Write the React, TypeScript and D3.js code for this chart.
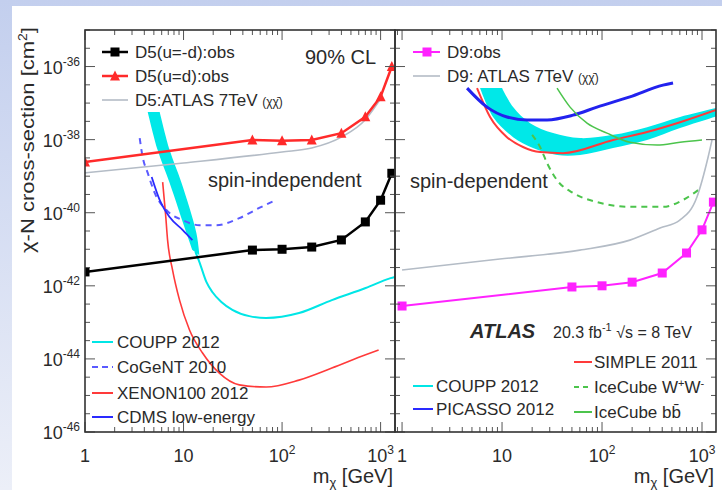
import React from "react";
import * as d3 from "d3";

// ---------- data (WIMP mass in GeV, cross-section in cm^2) ----------
const massPoints = [1, 50, 100, 200, 400, 700, 1000, 1300];

// spin-independent (D5)
const d5UminusD = [2.4e-42, 9.5e-42, 1.0e-41, 1.15e-41, 1.8e-41, 5.6e-41, 2.2e-40, 1.2e-39];
const d5UequalD = [2.45e-39, 9.8e-39, 9.3e-39, 9.8e-39, 1.5e-38, 4.2e-38, 1.5e-37, 1.0e-36];
const d5Atlas7Mass = [1, 10, 100, 200, 400, 700, 1000];
const d5Atlas7 = [1.23e-39, 2.3e-39, 4.6e-39, 5.9e-39, 1.17e-38, 3.5e-38, 1.3e-37];

const coupSiBandLeftMass = [4.33, 5.46, 7.23, 10.7, 12.3];
const coupSiBandLeft = [5.7e-38, 5.2e-39, 6.5e-40, 2.8e-41, 9.5e-42];
const coupSiBandRightMass = [5.73, 7.23, 9.55, 13.5, 14.5];
const coupSiBandRight = [5.7e-38, 5.2e-39, 6.5e-40, 2.8e-41, 6.9e-42];
const coupSiMass = [13.2, 14.5, 17.1, 19.6, 24.2, 31.3, 46.5, 68.9, 148.6, 320, 705, 1262, 1400];
const coupSi = [8.5e-42, 4.47e-42, 1.26e-42, 6.76e-43, 3.59e-43, 2.19e-43, 1.48e-43, 1.32e-43, 1.8e-43, 4.07e-43, 8.7e-43, 1.62e-42, 1.75e-42];

const cogentMass = [3.59, 3.85, 4.33, 5.1, 6.73, 9.77, 14.5, 21.5, 36.8, 58.6, 86.9];
const cogent = [1.1e-38, 3.31e-39, 1.23e-39, 3.47e-40, 1.17e-40, 6.3e-41, 4.57e-41, 4.57e-41, 7.1e-41, 1.35e-40, 2.24e-40];

const cdmsMass = [4.75, 5.72, 7.22, 9.77, 12.3];
const cdms = [9.5e-40, 2.24e-40, 7.6e-41, 3.4e-41, 1.78e-41];

const xenonMass = [6.14, 6.58, 6.89, 7.74, 9.11, 11.5, 15.6, 23.1, 36.8, 68.9, 148.5, 320, 705, 955];
const xenon = [6.9e-40, 8.7e-41, 1.78e-41, 2.7e-42, 4.07e-43, 6.2e-44, 1.45e-44, 4.07e-45, 1.95e-45, 1.7e-45, 2.63e-45, 5.6e-45, 1.29e-44, 1.74e-44];

// spin-dependent (D9)
const d9Obs = [2.8e-43, 9.3e-43, 1.0e-42, 1.26e-42, 2.24e-42, 7.9e-42, 3.4e-41, 1.95e-40];
const d9Atlas7Mass = [1, 9.5, 60, 190, 380, 600, 890, 1150, 1260];
const d9Atlas7 = [2.7e-42, 5.4e-42, 9.5e-42, 1.78e-41, 3.8e-41, 6.3e-41, 2.7e-40, 3.3e-39, 9.8e-39];

const coupSdLowerMass = [6.03, 8.13, 12.9, 20.4, 35.5, 60.3, 129, 282, 603, 1514];
const coupSdLower = [2.57e-37, 4.17e-38, 1.17e-38, 5.9e-39, 3.8e-39, 3.8e-39, 5.9e-39, 9.8e-39, 2.09e-38, 4.68e-38];
const coupSdUpperMass = [10, 12.9, 19.1, 32.4, 60.3, 129, 282, 603, 1514];
const coupSdUpper = [2.57e-37, 7.76e-38, 2.82e-38, 1.51e-38, 1.1e-38, 1.35e-38, 2.19e-38, 4.17e-38, 7.76e-38];

const simpleMass = [5.62, 7.59, 11.2, 16.2, 24.0, 40.7, 129, 282, 603, 1380];
const simple = [2.57e-37, 4.17e-38, 1.17e-38, 6.3e-39, 4.57e-39, 4.27e-39, 9.8e-39, 1.62e-38, 3.0e-38, 6.5e-38];

const picassoMass = [4.47, 7.08, 11.2, 17.8, 28.2, 51.3, 89.1, 190, 407, 513];
const picasso = [2.57e-37, 7.76e-38, 4.17e-38, 3.47e-38, 3.47e-38, 4.68e-38, 7.76e-38, 1.48e-37, 3.1e-37, 3.55e-37];

const iceBbMass = [35.5, 47.9, 70.8, 112, 190, 355, 603, 1000];
const iceBb = [2.57e-37, 7.76e-38, 2.82e-38, 1.51e-38, 8.5e-39, 7.1e-39, 8.5e-39, 9.8e-39];

const iceWwMass = [20.0, 24.0, 28.2, 35.5, 51.3, 89.1, 190, 407, 646, 1000];
const iceWw = [1.35e-38, 6.3e-39, 2.29e-39, 7.76e-40, 3.47e-40, 1.95e-40, 1.45e-40, 1.45e-40, 2.24e-40, 5.0e-40];

// axis labels
const yLabelExponents = [-46, -44, -42, -40, -38, -36];
const xLabelValues = [1, 10, 100, 1000];

// ---------- layout ----------
const TOP = 30;
const BOTTOM = 432;
const FONT = "'Liberation Sans', Arial, sans-serif";
const TEXT = "#2a2a2a";

const yScale = d3.scaleLog().domain([1e-46, 1e-35]).range([BOTTOM, TOP]);
const xLeft = d3.scaleLog().domain([1, 1400]).range([85, 395]);
const xRight = d3.scaleLog().domain([0.85, 1380]).range([395, 716]);

type Pt = [number, number];
const zip = (xs: number[], ys: number[]): Pt[] => xs.map((x, i) => [x, ys[i]]);

function pathFor(xs: d3.ScaleLogarithmic<number, number>, pts: Pt[], smooth = true) {
  return (
    d3
      .line<Pt>()
      .x((d) => xs(d[0]))
      .y((d) => yScale(d[1]))
      .curve(smooth ? d3.curveMonotoneX : d3.curveLinear)(pts) || ""
  );
}

// closed band: edge a drawn forwards, edge b backwards, each smoothed on its own
function bandPath(xs: d3.ScaleLogarithmic<number, number>, a: Pt[], b: Pt[]) {
  const edge = d3
    .line<Pt>()
    .x((d) => xs(d[0]))
    .y((d) => yScale(d[1]))
    .curve(d3.curveCatmullRom.alpha(0.5));
  const first = edge(a) || "";
  const second = (edge(b.slice().reverse()) || "").replace(/^M/, "L");
  return first + second + "Z";
}

function Square({ x, y, s = 9, fill }: { x: number; y: number; s?: number; fill: string }) {
  return <rect x={x - s / 2} y={y - s / 2} width={s} height={s} fill={fill} />;
}

function Triangle({ x, y, s = 10, fill }: { x: number; y: number; s?: number; fill: string }) {
  const h = s * 0.9;
  return <path d={`M${x},${y - h / 2 - 1}L${x + s / 2},${y + h / 2}L${x - s / 2},${y + h / 2}Z`} fill={fill} />;
}

function Power({ x, y, exp, anchor }: { x: number; y: number; exp: string; anchor: string }) {
  return (
    <text x={x} y={y} textAnchor={anchor} fontSize={18} fill={TEXT} fontFamily={FONT}>
      <tspan>10</tspan>
      <tspan dy={-8} fontSize={12}>
        {exp}
      </tspan>
    </text>
  );
}

function Frame({ xs, showY }: { xs: d3.ScaleLogarithmic<number, number>; showY: boolean }) {
  const [x0, x1] = xs.range();
  const [dMin, dMax] = xs.domain();
  const xTicks = xs.ticks().filter((v) => v >= dMin && v <= dMax);
  const isDecade = (v: number) => Math.abs(Math.log10(v) - Math.round(Math.log10(v))) < 1e-6;
  const yTicks = d3.range(-46, -34.99, 0.5);
  const lines: JSX.Element[] = [];
  xTicks.forEach((v, i) => {
    const px = xs(v);
    const len = isDecade(v) ? 10 : 5;
    lines.push(<line key={`b${i}`} x1={px} x2={px} y1={BOTTOM} y2={BOTTOM - len} />);
    lines.push(<line key={`t${i}`} x1={px} x2={px} y1={TOP} y2={TOP + len} />);
  });
  yTicks.forEach((e, i) => {
    const py = yScale(Math.pow(10, e));
    const len = Number.isInteger(e) && e % 2 === 0 ? 10 : 5;
    lines.push(<line key={`l${i}`} x1={x0} x2={x0 + len} y1={py} y2={py} />);
    lines.push(<line key={`r${i}`} x1={x1} x2={x1 - len} y1={py} y2={py} />);
  });
  return (
    <g>
      <g stroke="#555" strokeWidth={1}>{lines}</g>
      <rect x={x0} y={TOP} width={x1 - x0} height={BOTTOM - TOP} fill="none" stroke="#333" strokeWidth={1.6} />
      {xLabelValues.map((v) => {
        const px = xs(v);
        if (v === 1 || v === 10)
          return (
            <text key={v} x={px} y={462} textAnchor="middle" fontSize={18} fill={TEXT} fontFamily={FONT}>
              {v}
            </text>
          );
        return <Power key={v} x={px} y={462} exp={String(Math.round(Math.log10(v)))} anchor="middle" />;
      })}
      {showY &&
        yLabelExponents.map((e) => (
          <Power key={e} x={80} y={yScale(Math.pow(10, e)) + 7} exp={`-${-e}`} anchor="end" />
        ))}
      <text x={x1 - 2} y={483} textAnchor="end" fontSize={20} fill={TEXT} fontFamily={FONT}>
        m
        <tspan dy={4} fontSize={13}>
          χ
        </tspan>
        <tspan dy={-4}> [GeV]</tspan>
      </text>
    </g>
  );
}

function LegendLine({ x1, x2, y, color, width = 2, dash }: { x1: number; x2: number; y: number; color: string; width?: number; dash?: string }) {
  return <line x1={x1} x2={x2} y1={y} y2={y} stroke={color} strokeWidth={width} strokeDasharray={dash} />;
}

function Label({ x, y, size = 17, children, ...rest }: any) {
  return (
    <text x={x} y={y} fontSize={size} fill={TEXT} fontFamily={FONT} {...rest}>
      {children}
    </text>
  );
}

export default function App() {
  const L = xLeft;
  const R = xRight;
  const d5a = zip(massPoints, d5UminusD);
  const d5b = zip(massPoints, d5UequalD);
  const d9 = zip(massPoints, d9Obs);

  return (
    <svg width={722} height={490} style={{ position: "fixed", left: 0, top: 0 }} fontFamily={FONT}>
      <defs>
        <linearGradient id="bg" x1="0" y1="0" x2="0" y2="1">
          <stop offset="0" stopColor="#c3cfee" />
          <stop offset="1" stopColor="#eceff8" />
        </linearGradient>
        <clipPath id="clipL">
          <rect x={85} y={TOP} width={310} height={BOTTOM - TOP} />
        </clipPath>
        <clipPath id="clipR">
          <rect x={395} y={TOP} width={321} height={BOTTOM - TOP} />
        </clipPath>
      </defs>
      <rect width={722} height={490} fill="url(#bg)" />
      <rect x={12} y={6} width={710} height={484} fill="#fff" />

      {/* spin-independent panel */}
      <g clipPath="url(#clipL)">
        <path d={bandPath(L, zip(coupSiBandLeftMass, coupSiBandLeft), zip(coupSiBandRightMass, coupSiBandRight))} fill="#00e8e8" />
        <path d={pathFor(L, zip(xenonMass, xenon))} fill="none" stroke="#ff3a3a" strokeWidth={1.6} />
        <path d={pathFor(L, zip(cogentMass, cogent))} fill="none" stroke="#5a5aff" strokeWidth={2} strokeDasharray="6,5" />
        <path d={pathFor(L, zip(cdmsMass, cdms))} fill="none" stroke="#2a2aff" strokeWidth={1.8} />
        <path d={pathFor(L, zip(coupSiMass, coupSi))} fill="none" stroke="#00e6e6" strokeWidth={2} />
        <path d={pathFor(L, zip(d5Atlas7Mass, d5Atlas7))} fill="none" stroke="#b4bcc6" strokeWidth={1.6} />
        <path d={pathFor(L, d5b, false)} fill="none" stroke="#ff2a2a" strokeWidth={2.5} />
        {d5b.map((d, i) => (
          <Triangle key={i} x={L(d[0])} y={yScale(d[1])} fill="#ff2a2a" />
        ))}
        <path d={pathFor(L, d5a, false)} fill="none" stroke="#000" strokeWidth={2.5} />
        {d5a.map((d, i) => (
          <Square key={i} x={L(d[0])} y={yScale(d[1])} fill="#000" />
        ))}
      </g>

      {/* spin-dependent panel */}
      <g clipPath="url(#clipR)">
        <path d={bandPath(R, zip(coupSdLowerMass, coupSdLower), zip(coupSdUpperMass, coupSdUpper))} fill="#00e8e8" />
        <path d={pathFor(R, zip(simpleMass, simple))} fill="none" stroke="#ff3a3a" strokeWidth={2} />
        <path d={pathFor(R, zip(picassoMass, picasso))} fill="none" stroke="#2222ee" strokeWidth={3} />
        <path d={pathFor(R, zip(iceBbMass, iceBb))} fill="none" stroke="#4cc44c" strokeWidth={1.5} />
        <path d={pathFor(R, zip(iceWwMass, iceWw))} fill="none" stroke="#4cc44c" strokeWidth={2} strokeDasharray="6,5" />
        <path d={pathFor(R, zip(d9Atlas7Mass, d9Atlas7))} fill="none" stroke="#b4bcc6" strokeWidth={1.6} />
        <path d={pathFor(R, d9, false)} fill="none" stroke="#ff22ff" strokeWidth={2} />
        {d9.map((d, i) => (
          <Square key={i} x={R(d[0])} y={yScale(d[1])} fill="#ff22ff" />
        ))}
      </g>

      <Frame xs={L} showY={true} />
      <Frame xs={R} showY={false} />

      {/* y-axis title */}
      <text
        transform="translate(34,140) rotate(-90)"
        textAnchor="middle"
        fontSize={19}
        fill={TEXT}
        fontFamily={FONT}
        textLength={226}
        lengthAdjust="spacingAndGlyphs"
      >
        χ-N cross-section [cm
        <tspan dy={-7} fontSize={12}>
          2
        </tspan>
        <tspan dy={7}>]</tspan>
      </text>

      {/* left panel legends */}
      <LegendLine x1={102} x2={128} y={52} color="#000" width={2.5} />
      <Square x={115} y={52} fill="#000" />
      <Label x={135} y={58}>D5(u=-d):obs</Label>
      <LegendLine x1={102} x2={128} y={76} color="#ff2a2a" width={2.5} />
      <Triangle x={115} y={76} fill="#ff2a2a" />
      <Label x={135} y={82}>D5(u=d):obs</Label>
      <LegendLine x1={102} x2={128} y={100} color="#b4bcc6" width={1.6} />
      <Label x={135} y={106}>
        D5:ATLAS 7TeV <tspan fontSize={12}>(χχ̄)</tspan>
      </Label>
      <Label x={305} y={64} size={20}>90% CL</Label>
      <Label x={208} y={187} size={20}>spin-independent</Label>

      <LegendLine x1={92} x2={113} y={342} color="#00e6e6" />
      <Label x={117} y={348}>COUPP 2012</Label>
      <LegendLine x1={92} x2={113} y={367} color="#5a5aff" dash="6,4" />
      <Label x={117} y={373}>CoGeNT 2010</Label>
      <LegendLine x1={92} x2={113} y={393} color="#ff3a3a" />
      <Label x={117} y={399}>XENON100 2012</Label>
      <LegendLine x1={92} x2={113} y={417} color="#2a2aff" />
      <Label x={117} y={423}>CDMS low-energy</Label>

      {/* right panel legends */}
      <LegendLine x1={413} x2={440} y={52} color="#ff22ff" width={2} />
      <Square x={427} y={52} fill="#ff22ff" />
      <Label x={447} y={58}>D9:obs</Label>
      <LegendLine x1={413} x2={440} y={76} color="#b4bcc6" width={1.6} />
      <Label x={447} y={82}>
        D9: ATLAS 7TeV <tspan fontSize={12}>(χχ̄)</tspan>
      </Label>
      <Label x={410} y={188} size={20}>spin-dependent</Label>

      <Label x={470} y={338} size={20} fontWeight="bold" fontStyle="italic">ATLAS</Label>
      <Label x={553} y={338} size={16}>
        20.3 fb<tspan dy={-7} fontSize={11}>-1</tspan>
        <tspan dy={7}> √s = 8 TeV</tspan>
      </Label>

      <LegendLine x1={574} x2={592} y={362} color="#ff3a3a" />
      <Label x={594} y={368}>SIMPLE 2011</Label>
      <LegendLine x1={574} x2={592} y={387} color="#4cc44c" dash="5,4" />
      <Label x={594} y={393}>
        IceCube W<tspan dy={-6} fontSize={11}>+</tspan>
        <tspan dy={6}>W</tspan>
        <tspan dy={-6} fontSize={11}>-</tspan>
      </Label>
      <LegendLine x1={574} x2={592} y={412} color="#4cc44c" />
      <Label x={594} y={418}>IceCube bb̄</Label>

      <LegendLine x1={413} x2={433} y={386} color="#00e6e6" />
      <Label x={436} y={392}>COUPP 2012</Label>
      <LegendLine x1={413} x2={433} y={409} color="#2a2aff" />
      <Label x={436} y={415}>PICASSO 2012</Label>
    </svg>
  );
}
